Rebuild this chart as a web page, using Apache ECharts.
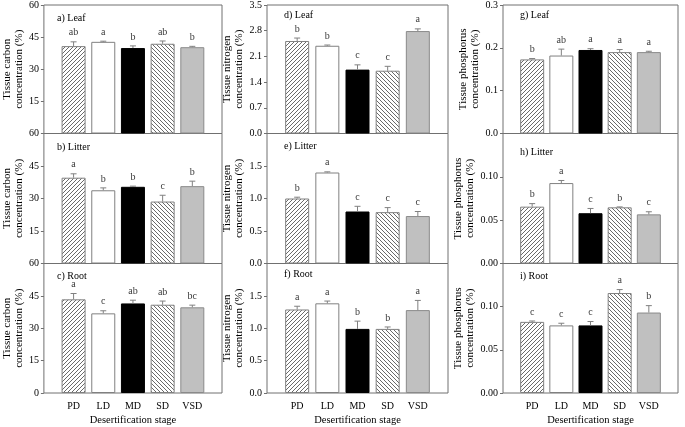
<!DOCTYPE html>
<html>
<head>
<meta charset="utf-8">
<script src="https://cdn.jsdelivr.net/npm/echarts@6/dist/echarts.min.js"></script>
<style>html,body{margin:0;padding:0;background:#fff;}#c{width:685px;height:427px;}</style>
</head>
<body>
<div id="c"></div>
<script>
// ---- data ----
const stages = ['PD', 'LD', 'MD', 'SD', 'VSD'];

const carbonLeaf = [40.8, 42.8, 39.9, 41.9, 40.3];
const carbonLeafErr = [2.0, 0.3, 1.0, 1.3, 0.4];
const carbonLeafLetters = ['ab', 'a', 'b', 'ab', 'b'];

const carbonLitter = [39.6, 33.8, 35.4, 28.6, 35.7];
const carbonLitterErr = [1.8, 1.1, 0.3, 2.9, 2.3];
const carbonLitterLetters = ['a', 'b', 'b', 'c', 'b'];

const carbonRoot = [43.4, 36.9, 41.5, 40.9, 39.7];
const carbonRootErr = [2.7, 1.2, 1.5, 1.7, 1.0];
const carbonRootLetters = ['a', 'c', 'ab', 'ab', 'bc'];

const nitrogenLeaf = [2.52, 2.39, 1.74, 1.71, 2.79];
const nitrogenLeafErr = [0.08, 0.02, 0.13, 0.12, 0.06];
const nitrogenLeafLetters = ['b', 'b', 'c', 'c', 'a'];

const nitrogenLitter = [1.00, 1.40, 0.80, 0.79, 0.73];
const nitrogenLitterErr = [0.02, 0.01, 0.08, 0.07, 0.07];
const nitrogenLitterLetters = ['b', 'a', 'c', 'c', 'c'];

const nitrogenRoot = [1.29, 1.385, 0.99, 0.99, 1.28];
const nitrogenRootErr = [0.05, 0.035, 0.12, 0.03, 0.15];
const nitrogenRootLetters = ['a', 'a', 'b', 'b', 'a'];

const phosLeaf = [0.173, 0.182, 0.195, 0.190, 0.190];
const phosLeafErr = [0.002, 0.015, 0.003, 0.006, 0.002];
const phosLeafLetters = ['b', 'ab', 'a', 'a', 'a'];

const phosLitter = [0.0656, 0.0928, 0.058, 0.0648, 0.0567];
const phosLitterErr = [0.0035, 0.003, 0.0055, 0.0005, 0.003];
const phosLitterLetters = ['b', 'a', 'c', 'b', 'c'];

const phosRoot = [0.0824, 0.0783, 0.0783, 0.1158, 0.0932];
const phosRootErr = [0.001, 0.0025, 0.0045, 0.004, 0.008];
const phosRootLetters = ['c', 'c', 'c', 'a', 'b'];

const carbonTicks = { max: 60, interval: 15, digits: 0 };
const nitrogenLeafTicks = { max: 3.5, interval: 0.7, digits: 1 };
const nitrogenTicks = { max: 2.0, interval: 0.5, digits: 1 };
const phosLeafTicks = { max: 0.3, interval: 0.1, digits: 1 };
const phosTicks = { max: 0.15, interval: 0.05, digits: 2 };

const panelLabels = ['a) Leaf', 'b) Litter', 'c) Root', 'd) Leaf', 'e) Litter', 'f) Root', 'g) Leaf', 'h) Litter', 'i) Root'];
const yTitles = ['Tissue carbon\nconcentration (%)', 'Tissue nitrogen\nconcentration (%)', 'Tissue phosphorus\nconcentration (%)'];
const xTitle = 'Desertification stage';

// ---- styles ----
const FONT = '"Liberation Serif", "Times New Roman", serif';
function hatch(dir) {
  const s = 4;
  const c = document.createElement('canvas');
  c.width = s; c.height = s;
  const g = c.getContext('2d');
  g.fillStyle = '#fff'; g.fillRect(0, 0, s, s);
  g.strokeStyle = '#6a6a6a'; g.lineWidth = 1;
  g.beginPath();
  if (dir > 0) {
    g.moveTo(0, s); g.lineTo(s, 0);
    g.moveTo(-1, 1); g.lineTo(1, -1);
    g.moveTo(s - 1, s + 1); g.lineTo(s + 1, s - 1);
  } else {
    g.moveTo(0, 0); g.lineTo(s, s);
    g.moveTo(-1, s - 1); g.lineTo(1, s + 1);
    g.moveTo(s - 1, -1); g.lineTo(s + 1, 1);
  }
  g.stroke();
  return c;
}
const barStyles = [
  { color: { image: hatch(1), repeat: 'repeat' }, borderColor: '#808080', borderWidth: 1 },
  { color: '#ffffff', borderColor: '#808080', borderWidth: 1 },
  { color: '#000000', borderColor: '#000000', borderWidth: 1 },
  { color: { image: hatch(-1), repeat: 'repeat' }, borderColor: '#808080', borderWidth: 1 },
  { color: '#c0c0c0', borderColor: '#8a8a8a', borderWidth: 1 }
];

const cols = [
  { left: 40, width: 182, nameGap: 10, title: yTitles[0] },
  { left: 267, width: 181, nameGap: 16, title: yTitles[1] },
  { left: 503, width: 175, nameGap: 21, title: yTitles[2] }
];
const rows = [
  { top: 4, height: 129.5 },
  { top: 133.5, height: 130 },
  { top: 263.5, height: 130 }
];

const panels = [
  { c: 0, r: 0, v: carbonLeaf, e: carbonLeafErr, l: carbonLeafLetters, t: carbonTicks, hideMin: true, hideMax: false, ly: 15 },
  { c: 0, r: 1, v: carbonLitter, e: carbonLitterErr, l: carbonLitterLetters, t: carbonTicks, hideMin: true, hideMax: false, ly: 15 },
  { c: 0, r: 2, v: carbonRoot, e: carbonRootErr, l: carbonRootLetters, t: carbonTicks, hideMin: false, hideMax: false, ly: 14 },
  { c: 1, r: 0, v: nitrogenLeaf, e: nitrogenLeafErr, l: nitrogenLeafLetters, t: nitrogenLeafTicks, hideMin: false, hideMax: false, ly: 12 },
  { c: 1, r: 1, v: nitrogenLitter, e: nitrogenLitterErr, l: nitrogenLitterLetters, t: nitrogenTicks, hideMin: false, hideMax: true, ly: 14 },
  { c: 1, r: 2, v: nitrogenRoot, e: nitrogenRootErr, l: nitrogenRootLetters, t: nitrogenTicks, hideMin: false, hideMax: true, ly: 12 },
  { c: 2, r: 0, v: phosLeaf, e: phosLeafErr, l: phosLeafLetters, t: phosLeafTicks, hideMin: false, hideMax: false, ly: 12 },
  { c: 2, r: 1, v: phosLitter, e: phosLitterErr, l: phosLitterLetters, t: phosTicks, hideMin: false, hideMax: true, ly: 20 },
  { c: 2, r: 2, v: phosRoot, e: phosRootErr, l: phosRootLetters, t: phosTicks, hideMin: false, hideMax: true, ly: 14 }
];

const grid = [], xAxis = [], yAxis = [], series = [], graphic = [];
const xCats = [''].concat(stages).concat(['']);

panels.forEach((p, k) => {
  const col = cols[p.c], row = rows[p.r];
  const bottomRow = p.r === 2;
  grid.push({ left: col.left, top: row.top, width: col.width, height: row.height,
    show: true, borderColor: '#707070', borderWidth: 1, backgroundColor: 'transparent' });
  xAxis.push({
    gridIndex: k, type: 'category', data: xCats, boundaryGap: false,
    axisLine: { show: false }, axisTick: { show: false }, splitLine: { show: false },
    axisLabel: { show: bottomRow, interval: 0, margin: 8, color: '#000', fontFamily: FONT, fontSize: 10 },
    name: bottomRow ? xTitle : '', nameLocation: 'middle', nameGap: 22,
    nameTextStyle: { color: '#000', fontFamily: FONT, fontSize: 10.5 }
  });
  const digits = p.t.digits;
  yAxis.push({
    gridIndex: k, type: 'value', min: 0, max: p.t.max, interval: p.t.interval,
    splitLine: { show: false },
    axisLine: { show: false },
    axisTick: { show: true, length: 3, lineStyle: { color: '#707070' } },
    axisLabel: { margin: 5, color: '#000', fontFamily: FONT, fontSize: 10,
      showMinLabel: !p.hideMin, showMaxLabel: !p.hideMax,
      formatter: v => (digits === 0 ? String(Math.round(v)) : (+v).toFixed(digits)) },
    name: col.title, nameLocation: 'middle', nameGap: col.nameGap,
    nameTextStyle: { color: '#000', fontFamily: FONT, fontSize: 11, lineHeight: 12 }
  });
  series.push({
    type: 'bar', xAxisIndex: k, yAxisIndex: k, barWidth: 24, silent: true, z: 2,
    data: p.v.map((v, i) => ({ value: [i + 1, v], itemStyle: barStyles[i] }))
  });
  series.push({
    type: 'custom', xAxisIndex: k, yAxisIndex: k, silent: true, z: 3,
    data: p.v.map((v, i) => [i + 1, v, v + p.e[i]]),
    renderItem: function (params, api) {
      const a = api.coord([api.value(0), api.value(1)]);
      const b = api.coord([api.value(0), api.value(2)]);
      const st = { stroke: '#808080', lineWidth: 1 };
      return { type: 'group', children: [
        { type: 'line', shape: { x1: a[0], y1: a[1], x2: b[0], y2: b[1] }, style: st },
        { type: 'line', shape: { x1: b[0] - 3, y1: b[1], x2: b[0] + 3, y2: b[1] }, style: st }
      ] };
    }
  });
  series.push({
    type: 'scatter', xAxisIndex: k, yAxisIndex: k, silent: true, symbolSize: 0, z: 4,
    data: p.v.map((v, i) => ({ value: [i + 1, v + p.e[i]], label: { formatter: p.l[i] } })),
    label: { show: true, position: 'top', distance: 4, color: '#000', fontFamily: FONT, fontSize: 10 }
  });
  graphic.push({ type: 'text', left: col.left + 17, top: row.top + p.ly - 6,
    style: { text: panelLabels[k], fill: '#000', font: '10px ' + FONT } });
});

const chart = echarts.init(document.getElementById('c'), null, { renderer: 'canvas' });
chart.setOption({ animation: false, backgroundColor: '#fff', grid, xAxis, yAxis, series, graphic });
</script>
</body>
</html>
